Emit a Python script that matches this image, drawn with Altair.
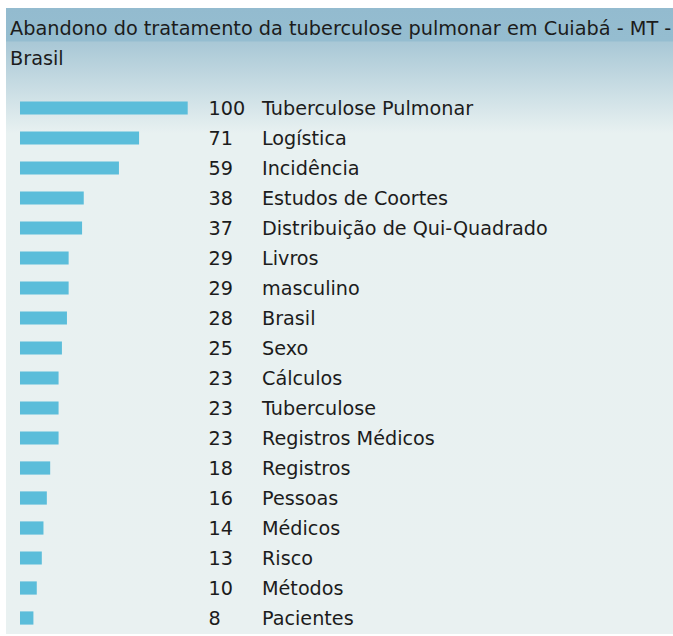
import altair as alt
import pandas as pd

title_lines = ["Abandono do tratamento da tuberculose pulmonar em Cuiabá - MT -", "Brasil"]
terms = ["Tuberculose Pulmonar", "Logística", "Incidência", "Estudos de Coortes",
         "Distribuição de Qui-Quadrado", "Livros", "masculino", "Brasil", "Sexo",
         "Cálculos", "Tuberculose", "Registros Médicos", "Registros", "Pessoas",
         "Médicos", "Risco", "Métodos", "Pacientes"]
values = [100, 71, 59, 38, 37, 29, 29, 28, 25, 23, 23, 23, 18, 16, 14, 13, 10, 8]

df = pd.DataFrame({"term": terms, "value": values})
FONT = "DejaVu Sans"
FS = 19.2
TXT = "#1c1c1c"

gradient = alt.LinearGradient(
    gradient="linear", x1=0, y1=0, x2=0, y2=1,
    stops=[
        alt.GradientStop(offset=0, color="#93bbcf"),
        alt.GradientStop(offset=0.052, color="#95bdd0"),
        alt.GradientStop(offset=0.055, color="#a9c8d6"),
        alt.GradientStop(offset=0.2, color="#e8f1f1"),
        alt.GradientStop(offset=1, color="#e9f1f1"),
    ],
)

bg = alt.Chart(pd.DataFrame({"k": [0]})).mark_rect(color=gradient).encode(
    x=alt.value(0), x2=alt.value(667), y=alt.value(0), y2=alt.value(626)
)

title = alt.Chart(pd.DataFrame({"t": ["\n".join(title_lines)]})).mark_text(
    align="left", baseline="alphabetic", font=FONT, fontSize=19.3, lineHeight=30,
    lineBreak="\n", color=TXT
).encode(x=alt.value(4), y=alt.value(27), text="t:N")

yenc = alt.Y("term:N", sort=None, axis=None,
             scale=alt.Scale(range=[85, 625], paddingInner=0.56, paddingOuter=0.28))

bars = alt.Chart(df).mark_bar(color="#5bbdda").encode(
    x=alt.X("value:Q", axis=None, scale=alt.Scale(domain=[0, 100], range=[14, 181.7])),
    y=yenc,
)

nums = alt.Chart(df).mark_text(
    align="left", baseline="middle", font=FONT, fontSize=FS, color=TXT, dy=1
).encode(x=alt.value(202.5), y=alt.Y("term:N", sort=None, axis=None), text="value:Q")

labels = alt.Chart(df).mark_text(
    align="left", baseline="middle", font=FONT, fontSize=FS, color=TXT, dy=1
).encode(x=alt.value(256), y=alt.Y("term:N", sort=None, axis=None), text="term:N")

chart = alt.layer(bg, title, bars, nums, labels).properties(
    width=667, height=626,
    padding={"left": 6, "top": 8, "right": 0, "bottom": 2},
    autosize="none",
    background="white",
).configure_view(stroke=None)

chart.save("out.html", embed_options={"renderer": "svg", "actions": False})
